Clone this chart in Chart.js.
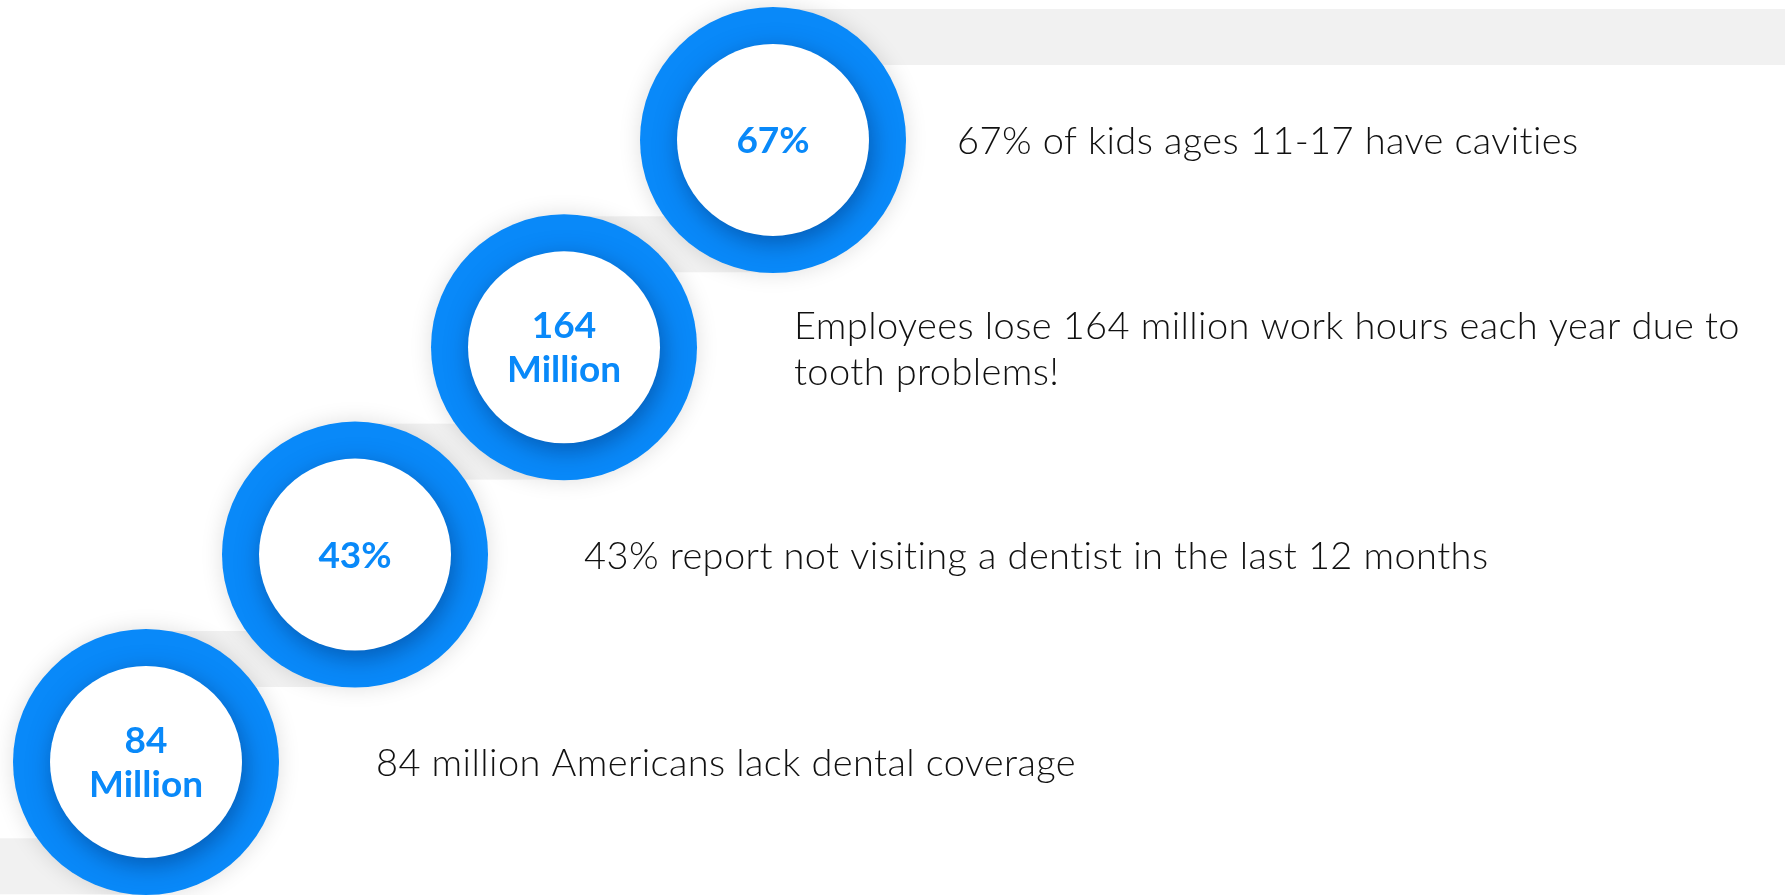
<!DOCTYPE html>
<html>
<head>
<meta charset="utf-8">
<script src="https://cdn.jsdelivr.net/npm/chart.js@4"></script>
<style>
  html, body { margin: 0; padding: 0; background: #fff; }
  #wrap { width: 1785px; height: 895px; position: relative; }
</style>
</head>
<body>
<div id="wrap"><canvas id="stepsChart"></canvas></div>
<script>
// data, bottom step first
const steps = [0, 1, 2, 3];
const figures = [['84', 'Million'], ['43%'], ['164', 'Million'], ['67%']];
const captions = [
    ['84 million Americans lack dental coverage'],
    ['43% report not visiting a dentist in the last 12 months'],
    ['Employees lose 164 million work hours each year due to', 'tooth problems!'],
    ['67% of kids ages 11-17 have cavities']
];
// grey shelves, one per step (the -1 one runs off the bottom)
const shelfSteps = [-1, 0, 1, 2, 3];

const BLUE = '#0989f9';
const OUTER_R = 133;
const INNER_R = 96;
const captionOffsets = [230, 229, 230, 184];

const stepsPlugin = {
    id: 'steps',
    beforeDatasetsDraw(chart) {
        const ctx = chart.ctx;
        const xs = chart.scales.x, ys = chart.scales.y;
        ctx.save();
        ctx.fillStyle = '#f1f1f1';
        shelfSteps.forEach(function(s) {
            const cx = xs.getPixelForValue(s);
            const cy = ys.getPixelForValue(s);
            const last = s === shelfSteps[shelfSteps.length - 1];
            const right = last ? chart.width : xs.getPixelForValue(s + 1);
            ctx.fillRect(cx, cy - 131, right - cx, 56);
        });
        ctx.restore();
    },
    beforeDatasetDraw(chart) {
        const ctx = chart.ctx;
        ctx.shadowColor = 'rgba(0,0,0,0.13)';
        ctx.shadowBlur = 22;
    },
    afterDatasetDraw(chart) {
        const ctx = chart.ctx;
        ctx.shadowColor = 'rgba(0,0,0,0)';
        ctx.shadowBlur = 0;
    },
    afterDatasetsDraw(chart) {
        const ctx = chart.ctx;
        const meta = chart.getDatasetMeta(0);
        meta.data.forEach(function(pt, i) {
            // white centre casting a soft shadow onto the ring
            ctx.save();
            ctx.beginPath();
            ctx.arc(pt.x, pt.y, INNER_R, 0, Math.PI * 2);
            ctx.fillStyle = '#fff';
            ctx.shadowColor = 'rgba(0,45,110,0.5)';
            ctx.shadowBlur = 24;
            ctx.shadowOffsetX = 3;
            ctx.shadowOffsetY = 7;
            ctx.fill();
            ctx.restore();

            // figure inside the ring
            ctx.save();
            ctx.fillStyle = BLUE;
            ctx.font = 'bold 37px Lato, sans-serif';
            ctx.textAlign = 'center';
            ctx.textBaseline = 'middle';
            const lines = figures[i];
            const lh = 44;
            lines.forEach(function(t, k) {
                ctx.fillText(t, pt.x, pt.y + (k - (lines.length - 1) / 2) * lh + 1);
            });

            // caption to the right
            ctx.fillStyle = '#111';
            ctx.font = '300 38px Lato, sans-serif';
            ctx.letterSpacing = '0.4px';
            ctx.textAlign = 'left';
            const cap = captions[i];
            const clh = 46;
            cap.forEach(function(t, k) {
                ctx.fillText(t, pt.x + captionOffsets[i], pt.y + 2 + (k - (cap.length - 1) / 2) * clh);
            });
            ctx.restore();
        });
    }
};

new Chart(document.getElementById('stepsChart').getContext('2d'), {
    type: 'scatter',
    data: {
        datasets: [{
            data: steps.map(function(s) { return { x: s, y: s }; }),
            backgroundColor: BLUE,
            borderWidth: 0,
            pointRadius: OUTER_R,
            pointHoverRadius: OUTER_R,
            clip: false
        }]
    },
    options: {
        responsive: true,
        maintainAspectRatio: false,
        animation: false,
        events: [],
        layout: { padding: 0, autoPadding: false },
        plugins: { legend: { display: false }, tooltip: { enabled: false } },
        scales: {
            x: { type: 'linear', display: false, min: -0.6986, max: 7.842 },
            y: { type: 'linear', display: false, min: -0.6417, max: 3.675 }
        }
    },
    plugins: [stepsPlugin]
});
</script>
</body>
</html>
